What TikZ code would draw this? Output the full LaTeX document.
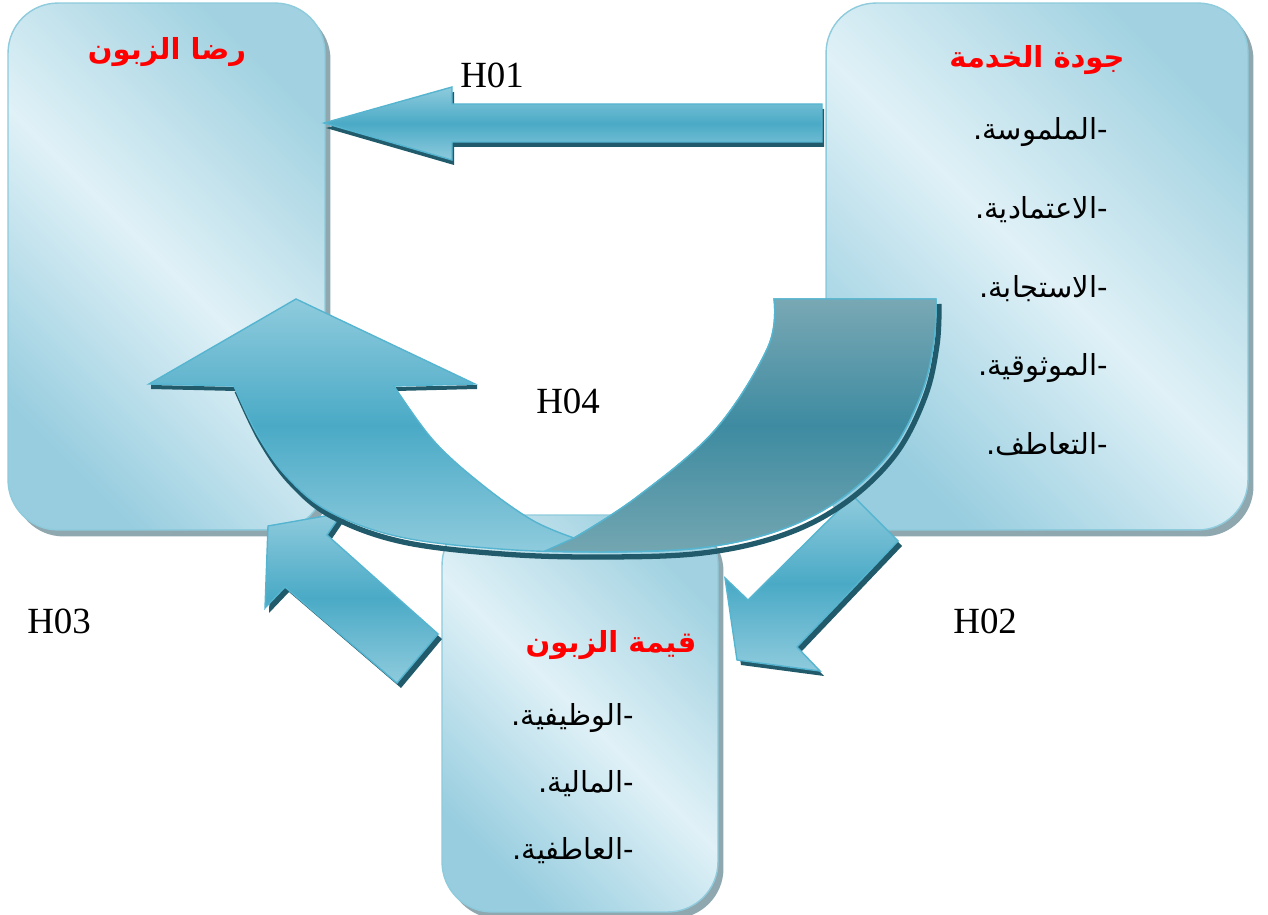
\documentclass[tikz,border=0pt]{standalone}
\usepackage{fontspec}
\setmainfont{Liberation Serif}
\newfontfamily\arabicfont[Script=Arabic]{DejaVu Sans}
\TeXXeTstate=1
\usetikzlibrary{shadows}
\definecolor{boxlight}{HTML}{E0F1F7}
\definecolor{boxdarkA}{HTML}{A2D2E1}
\definecolor{boxdarkB}{HTML}{97CDDF}
\definecolor{boxedge}{HTML}{8ECBDC}
\definecolor{boxshadow}{HTML}{8FA7AF}
\definecolor{arlight}{HTML}{8FCBDD}
\definecolor{armid}{HTML}{4AAAC6}
\definecolor{aredge}{HTML}{55B5D0}
\definecolor{arshadow}{HTML}{215A6A}
\definecolor{dktop}{HTML}{79A8B4}
\definecolor{dkmid}{HTML}{3E8BA1}
\definecolor{dkbot}{HTML}{73A6B1}
\newcommand{\aritem}[1]{\hbox{.}\hbox{#1}\hbox{-}}
\begin{document}
\begin{tikzpicture}[x=0.02cm,y=-0.02cm,
  box/.style={draw=boxedge, line width=0.8pt, rounded corners=1cm,
    left color=boxdarkA, right color=boxdarkB, middle color=boxlight, shading angle=-45,
    inner sep=0pt,
    drop shadow={shadow xshift=0.11cm, shadow yshift=-0.13cm, fill=boxshadow, opacity=1}},
  blockarrow/.style={draw=aredge, line width=0.8pt, top color=arlight, bottom color=arlight, middle color=armid},
  darkpart/.style={draw=aredge, line width=0.8pt, top color=dktop, bottom color=dkbot, middle color=dkmid},
  arshad/.style={fill=arshadow},
  hd/.style={font=\arabicfont\bfseries\fontsize{16.5}{20}\selectfont, text=red, inner sep=0pt},
  item/.style={font=\arabicfont\fontsize{16.5}{20}\selectfont, text=black, inner sep=0pt},
  lbl/.style={font=\fontsize{21}{25}\selectfont, text=black, inner sep=0pt}]
\useasboundingbox (0,0) rectangle (1268,915);

% boxes
\node[box, minimum width=6.34cm, minimum height=10.54cm] (sat) at (166.5,266.5) {};
\node[box, minimum width=8.44cm, minimum height=10.54cm] (qual) at (1037,266.5) {};
\node[box, minimum width=5.52cm, minimum height=7.94cm] (val) at (580,713.5) {};

% H01 arrow
\coordinate (a1tip) at (324,123);
\fill[arshad, shift={(2,5)}] (324,123) -- (452,87) -- (452,104) -- (822,104) -- (822,142) -- (452,142) -- (452,160) -- cycle;
\draw[blockarrow] (a1tip) -- (452,87) -- (452,104) -- (822,104) -- (822,142) -- (452,142) -- (452,160) -- cycle;

% H02 arrow
\fill[arshad, shift={(4,5)}] (853,496) -- (898,541) -- (797,647) -- (820,671) -- (737,660) -- (725,578) -- (748,600) -- cycle;
\draw[blockarrow] (853,496) -- (898,541) -- (797,647) -- (820,671) -- (737,660) -- (725,578) -- (748,600) -- cycle;

% H03 arrow
\fill[arshad, shift={(4,5)}] (438,634) -- (327,535) -- (342,513) -- (268,526) -- (265,608) -- (285,587) -- (397,683) -- cycle;
\draw[blockarrow] (438,634) -- (327,535) -- (342,513) -- (268,526) -- (265,608) -- (285,587) -- (397,683) -- cycle;

% H04 curved arrow
\draw[arshadow, line width=3pt, shift={(3,5)}] plot[smooth, tension=0.6] coordinates {(936,299) (934,340) (922,392) (892,450) (842,498) (780,530) (700,548) (600,552) (500,549) (400,537) (330,512) (288,478) (258,436) (234,386)};
\fill[arshad, shift={(2,5)}] (149,384) -- (234,386) -- (234,382) -- (149,380) -- cycle;
\fill[arshad, shift={(2,5)}] (394,386) -- (475,384) -- (475,380) -- (394,382) -- cycle;
\draw[blockarrow] (296,299) -- (475,384) -- (394,386)
  -- plot[smooth, tension=0.6] coordinates {(394,386) (433,440) (480,483) (532,520) (574,538)}
  -- plot[smooth, tension=0.6] coordinates {(574,538) (637,497) (715,430) (768,347) (774,299)}
  -- (936,299)
  -- plot[smooth, tension=0.6] coordinates {(936,299) (934,340) (922,392) (892,450) (842,498) (780,530) (700,548) (600,552) (500,549) (400,537) (330,512) (288,478) (258,436) (234,386)}
  -- (149,384) -- cycle;
\draw[darkpart] (774,299) -- (936,299)
  -- plot[smooth, tension=0.6] coordinates {(936,299) (934,340) (922,392) (892,450) (842,498) (780,530) (700,548) (600,552)}
  -- (545,551) -- (574,538)
  -- plot[smooth, tension=0.6] coordinates {(574,538) (637,497) (715,430) (768,347) (774,299)} -- cycle;

% texts
\node[hd, anchor=base] (satt) at (167,60) {\beginR رضا الزبون\endR};
\node[hd, anchor=base] (qualt) at (1037,68) {\beginR جودة الخدمة\endR};
\node[item, anchor=base east] (q1) at (1108,140) {\aritem{الملموسة}};
\node[item, anchor=base east] (q2) at (1108,219) {\aritem{الاعتمادية}};
\node[item, anchor=base east] (q3) at (1108,298) {\aritem{الاستجابة}};
\node[item, anchor=base east] (q4) at (1108,376) {\aritem{الموثوقية}};
\node[item, anchor=base east] (q5) at (1108,455) {\aritem{التعاطف}};
\node[hd, anchor=base] (valt) at (611,652) {\beginR قيمة الزبون\endR};
\node[item, anchor=base east] (v1) at (634,725) {\aritem{الوظيفية}};
\node[item, anchor=base east] (v2) at (634,792) {\aritem{المالية}};
\node[item, anchor=base east] (v3) at (634,859) {\aritem{العاطفية}};

\node[lbl, anchor=base west] (h01) at (460,88) {H01};
\node[lbl, anchor=base west] (h02) at (953,633) {H02};
\node[lbl, anchor=base west] (h03) at (27,633) {H03};
\node[lbl, anchor=base west] (h04) at (536,414) {H04};
\end{tikzpicture}
\end{document}
